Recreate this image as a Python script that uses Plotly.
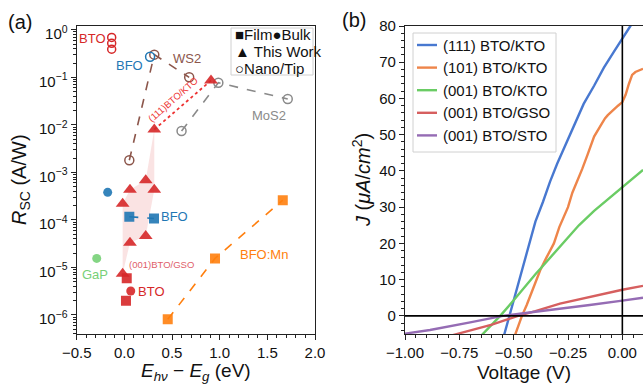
import numpy as np
import plotly.graph_objects as go

FONT = "Liberation Sans, Arial, sans-serif"

# ---------------- Panel (a) data ----------------
# This work (triangles)
tw_x = [-0.018, -0.018, 0.059, 0.059, 0.224, 0.224, 0.314, 0.314]
tw_y = [7.4e-6, 2.2e-4, 3.3e-5, 4.3e-4, 4.6e-5, 6.8e-4, 4.3e-4, 8.0e-3]
kto111_x = [0.314, 0.909]
kto111_y = [8.0e-3, 8.6e-2]

# Nano/Tip (open circles)
bto_nano_x = [-0.133, -0.133, -0.133]
bto_nano_y = [0.69, 0.52, 0.39]
bfo_nano_x = [0.27]
bfo_nano_y = [0.27]
ws2_x = [0.052, 0.314, 0.68]
ws2_y = [1.8e-3, 0.30, 0.10]
mos2_x = [0.60, 0.986, 1.714]
mos2_y = [7.4e-3, 0.077, 0.035]

# Film (squares)
bfo_film_x = [0.052, 0.311]
bfo_film_y = [1.17e-4, 1.07e-4]
bto_film_x = [0.025, 0.017]
bto_film_y = [5.9e-6, 2.0e-6]
bfomn_x = [0.455, 0.951, 1.662]
bfomn_y = [8.1e-7, 1.55e-5, 2.6e-4]

# Bulk (filled circles)
bfo_bulk_x = [-0.175]
bfo_bulk_y = [3.8e-4]
bto_bulk_x = [0.067]
bto_bulk_y = [3.2e-6]
gap_x = [-0.29]
gap_y = [1.55e-5]

# ---------------- Panel (b) data ----------------
v_111kto = [-0.545, -0.52, -0.49, -0.462, -0.43, -0.40, -0.365, -0.333, -0.30, -0.26,
            -0.237, -0.20, -0.178, -0.13, -0.085, -0.04, 0.0, 0.037, 0.06]
j_111kto = [-5.5, 0, 7, 12.6, 20, 26, 31.5, 37, 42, 47.5, 50.5, 55.5, 58.5, 63.5,
            68.5, 72.8, 76.7, 80, 82]

v_101kto = [-0.495, -0.462, -0.44, -0.42, -0.40, -0.378, -0.35, -0.315, -0.29, -0.27,
            -0.25, -0.23, -0.205, -0.185, -0.16, -0.145, -0.13, -0.10, -0.08, -0.067,
            -0.04, -0.02, 0.0, 0.015, 0.03, 0.045, 0.06, 0.08, 0.095]
j_101kto = [-5.5, 0, 3, 6, 9, 12.6, 16, 20, 24.5, 27.5, 30, 34, 37.5, 40.5, 44.5, 47,
            49.5, 52.5, 54.5, 55.4, 57, 58, 59, 61, 64, 66.5, 67.3, 67.8, 68.2]

v_001kto = [-0.65, -0.562, -0.50, -0.45, -0.40, -0.37, -0.30, -0.25, -0.20, -0.13,
            -0.06, 0.0, 0.05, 0.095]
j_001kto = [-5.5, 0, 4.3, 8, 11.5, 13.5, 18.3, 21.5, 25, 29, 32.5, 35.5, 38, 40.3]

v_001gso = [-0.78, -0.70, -0.60, -0.48, -0.40, -0.287, -0.20, -0.10, 0.0, 0.095]
j_001gso = [-5.3, -4.1, -2.4, 0, 1.3, 3.4, 4.6, 5.9, 7.2, 8.3]

v_001sto = [-1.0, -0.885, -0.70, -0.55, -0.40, -0.287, -0.15, 0.0, 0.095]
j_001sto = [-4.9, -3.9, -1.8, 0, 1.15, 1.95, 3.0, 4.2, 5.0]

iv_names = ["(111) BTO/KTO", "(101) BTO/KTO", "(001) BTO/KTO", "(001) BTO/GSO", "(001) BTO/STO"]
iv_colors = ["#4878d0", "#ee854a", "#6acc64", "#d65f5f", "#956cb4"]

RED = "#d62728"
BLUE = "#1f77b4"
ORANGE = "#ff7f0e"
BROWN = "#8c564b"
GRAY = "#8a8a8a"
GREEN = "#77d077"

fig = go.Figure()

# shaded envelope of this-work triangles
groups = {}
for x, y in zip(tw_x, tw_y):
    groups.setdefault(x, []).append(y)
gx = sorted(groups)
upper = [max(groups[k]) for k in gx]
lower = [min(groups[k]) for k in gx]
fig.add_trace(go.Scatter(x=gx + gx[::-1], y=upper + lower[::-1], fill="toself",
                         fillcolor="rgba(214,39,40,0.13)", line=dict(width=0),
                         mode="lines", hoverinfo="skip", showlegend=False,
                         xaxis="x", yaxis="y"))

def add_a(x, y, mode, color, symbol, size, dash=None, open_=False, lw=1.6):
    marker = dict(symbol=symbol, size=size, color=color, opacity=0.9,
                  line=dict(width=0))
    if open_:
        marker = dict(symbol=symbol + "-open", size=size, color=color,
                      line=dict(width=1.5, color=color))
    fig.add_trace(go.Scatter(x=x, y=y, mode=mode, marker=marker,
                             line=dict(color=color, width=lw, dash=dash),
                             showlegend=False, xaxis="x", yaxis="y"))

add_a(ws2_x, ws2_y, "lines+markers", BROWN, "circle", 9, dash="dash", open_=True)
add_a(mos2_x, mos2_y, "lines+markers", GRAY, "circle", 9, dash="dash", open_=True)
add_a(bto_nano_x, bto_nano_y, "markers", RED, "circle", 8, open_=True)
add_a(bfo_nano_x, bfo_nano_y, "markers", BLUE, "circle", 9, open_=True)
add_a(kto111_x, kto111_y, "lines", "#ee3333", "triangle-up", 12, dash="dot", lw=1.8)
add_a(bfo_film_x, bfo_film_y, "lines+markers", BLUE, "square", 10, dash="dash")
add_a(bfomn_x, bfomn_y, "lines+markers", ORANGE, "square", 10, dash="dash")
add_a(bto_film_x, bto_film_y, "markers", RED, "square", 10)
add_a(bfo_bulk_x, bfo_bulk_y, "markers", BLUE, "circle", 9)
add_a(bto_bulk_x, bto_bulk_y, "markers", RED, "circle", 9)
add_a(gap_x, gap_y, "markers", GREEN, "circle", 9)
add_a(tw_x + kto111_x[1:], tw_y + kto111_y[1:], "markers", RED, "triangle-up", 12)

# ---------------- Panel (b) traces ----------------
for v, j, n, c in zip([v_111kto, v_101kto, v_001kto, v_001gso, v_001sto],
                      [j_111kto, j_101kto, j_001kto, j_001gso, j_001sto],
                      iv_names, iv_colors):
    fig.add_trace(go.Scatter(x=v, y=j, mode="lines", name=n, showlegend=False,
                             line=dict(color=c, width=2.4),
                             xaxis="x2", yaxis="y2"))

W, H = 643, 384
def px(x):
    return x / W
def py(y):
    return (H - y) / H

minor_log = [k * 10.0 ** e for e in range(-7, 1) for k in range(2, 10)]
axis_common = dict(showline=True, linecolor="#222", linewidth=1.2, ticks="outside",
                   tickcolor="#222", showgrid=False, zeroline=False, automargin=False,
                   tickfont=dict(family=FONT, size=15, color="#111"))

fig.update_layout(
    template="none",
    width=W, height=H, margin=dict(l=0, r=0, t=0, b=0, pad=0),
    paper_bgcolor="white", plot_bgcolor="white", showlegend=False,
    font=dict(family=FONT, color="#111"),
    xaxis=dict(domain=[px(76.7), px(315)], range=[-0.5, 2.0], anchor="y",
               tickvals=[-0.5, 0, 0.5, 1.0, 1.5, 2.0], tickformat=".1f",
               ticklen=5, tickwidth=1.2, mirror=True,
               minor=dict(dtick=0.1, ticks="outside", ticklen=3, tickcolor="#222"),
               **axis_common),
    yaxis=dict(domain=[py(334), py(26)], type="log", range=[-6.4, 0.08], anchor="x",
               tickvals=[10.0 ** e for e in range(-6, 1)],
               ticktext=["10<sup>−%d</sup>" % (-e) if e < 0 else "10<sup>0</sup>"
                         for e in range(-6, 1)],
               ticklen=5, tickwidth=1.2, mirror=True, ticklabelshift=4,
               minor=dict(tickmode="array", tickvals=minor_log, ticks="outside",
                          ticklen=3, tickcolor="#222"),
               **axis_common),
    xaxis2=dict(domain=[px(405), 1.0], range=[-1.0, 0.095], anchor="y2",
                tickvals=[-1.0, -0.75, -0.5, -0.25, 0.0], tickformat=".2f",
                ticklen=5, tickwidth=1.2, mirror=True,
                minor=dict(dtick=0.05, ticks="outside", ticklen=3, tickcolor="#222"),
                **axis_common),
    yaxis2=dict(domain=[py(334), py(26)], range=[-5, 80], anchor="x2",
                tickvals=[0, 10, 20, 30, 40, 50, 60, 70, 80],
                ticklen=5, tickwidth=1.2,
                minor=dict(dtick=2, ticks="outside", ticklen=3, tickcolor="#222"),
                **axis_common),
)

# zero lines in (b)
fig.add_shape(type="line", xref="x2", yref="paper", x0=0, x1=0, y0=py(334), y1=py(26),
              line=dict(color="black", width=1.6), layer="above")
fig.add_shape(type="line", xref="paper", yref="y2", x0=px(405), x1=1.0, y0=0, y1=0,
              line=dict(color="black", width=1.6), layer="above")

# legend box for (a)
fig.add_shape(type="rect", xref="paper", yref="paper", x0=px(231), x1=px(313),
              y0=py(75), y1=py(28), line=dict(color="#d0d0d0", width=1),
              fillcolor="rgba(255,255,255,0.9)", layer="above")
for txt, yy in [("■Film●Bulk", 34.5), ("▲ This Work", 51.5), ("○Nano/Tip", 68)]:
    fig.add_annotation(text=txt, xref="paper", yref="paper", x=px(233), y=py(yy),
                       xanchor="left", yanchor="middle", showarrow=False,
                       font=dict(family=FONT, size=15, color="#111"))

# legend for (b), drawn manually
fig.add_shape(type="rect", xref="paper", yref="paper", x0=px(413), x1=px(556),
              y0=py(152), y1=py(33), line=dict(color="#d0d0d0", width=1),
              fillcolor="rgba(255,255,255,0.9)", layer="above")
for k, (n, c) in enumerate(zip(iv_names, iv_colors)):
    yy = 45 + k * 22.6
    fig.add_shape(type="line", xref="paper", yref="paper", x0=px(417), x1=px(437),
                  y0=py(yy), y1=py(yy), line=dict(color=c, width=2.4), layer="above")
    fig.add_annotation(text=n, xref="paper", yref="paper", x=px(441), y=py(yy),
                       xanchor="left", yanchor="middle", showarrow=False,
                       font=dict(family=FONT, size=15, color="#111"))

# data labels in (a): (text, x, y value, color, size, angle)
labels_a = [
    ("BTO", -0.33, 10 ** -0.18, RED, 13, 0),
    ("BFO", 0.054, 10 ** -0.75, BLUE, 13, 0),
    ("WS2", 0.66, 10 ** -0.61, BROWN, 13, 0),
    ("MoS2", 1.52, 10 ** -1.81, GRAY, 13, 0),
    ("BFO", 0.53, 10 ** -3.92, BLUE, 13, 0),
    ("BFO:Mn", 1.47, 10 ** -4.73, ORANGE, 13, 0),
    ("GaP", -0.313, 10 ** -5.15, GREEN, 13, 0),
    ("BTO", 0.28, 10 ** -5.5, RED, 13, 0),
    ("(001)BTO/GSO", 0.385, 10 ** -4.94, "#e0606a", 9.5, 0),
    ("(111)BTO/KTO", 0.51, 10 ** -1.47, "#ee3333", 9.5, -41),
]
for t, x, y, c, s, ang in labels_a:
    fig.add_annotation(text=t, xref="x", yref="y", x=x, y=np.log10(y),
                       showarrow=False, textangle=ang,
                       font=dict(family=FONT, size=s, color=c))

# axis titles and panel labels
titles = [
    ("<i>R</i><sub>SC</sub> (A/W)", 20, 180, -90, 20),
    ("<i>E<sub>hν</sub></i> − <i>E<sub>g</sub></i> (eV)", 196, 372, 0, 19),
    ("<i>J</i> (<i>μA</i>/<i>cm</i><sup>2</sup>)", 361, 180, -90, 20),
    ("Voltage (V)", 524, 372, 0, 19),
    ("(a)", 20, 22, 0, 20),
    ("(b)", 354, 20, 0, 20),
]
for t, x, y, ang, s in titles:
    fig.add_annotation(text=t, xref="paper", yref="paper", x=px(x), y=py(y),
                       xanchor="center", yanchor="middle", showarrow=False,
                       textangle=ang, font=dict(family=FONT, size=s, color="#111"))

fig.write_html("out.html")
